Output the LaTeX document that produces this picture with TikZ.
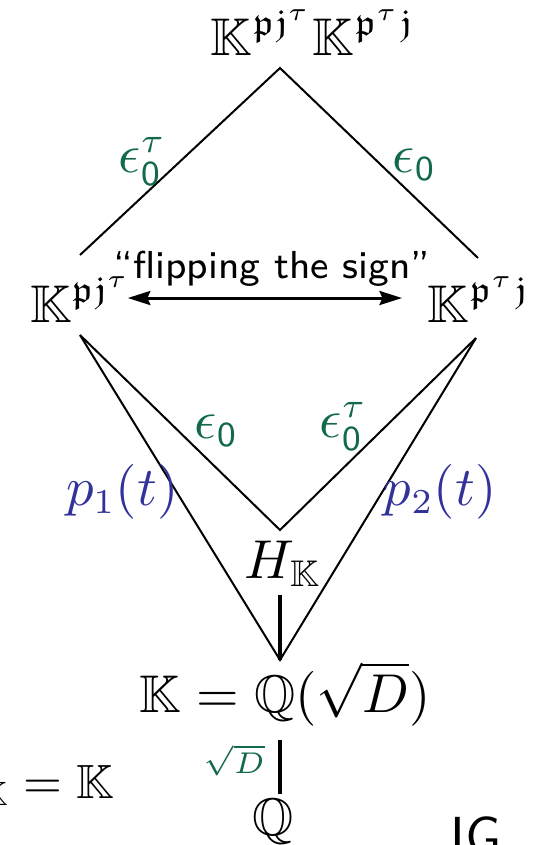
\documentclass[tikz,border=0pt]{standalone}
\usepackage{amssymb}
\usetikzlibrary{arrows.meta}
\definecolor{epsgreen}{RGB}{18,105,75}
\definecolor{polyblue}{RGB}{50,50,155}
\begin{document}
\begin{tikzpicture}[x=0.2pt, y=-0.2pt,
    every node/.style={font=\fontsize{10.6}{13}\selectfont},
    field/.style={inner sep=0pt, anchor=base west},
    epslabel/.style={inner sep=0pt, anchor=base west, text=epsgreen},
    polylabel/.style={inner sep=0pt, anchor=base west, text=polyblue},
    edge/.style={line width=0.4pt},
    tower/.style={line width=0.75pt}]
    \useasboundingbox (0,0) rectangle (537,845);
    \clip (0,0) rectangle (537,845);

    % =========================================================
    % CAMPI
    % =========================================================
    \node[field] (top) at (210,55) {$\mathbb K^{\mathfrak p\mathfrak j^\tau}\mathbb K^{\mathfrak p^\tau\mathfrak j}$};
    \node[field] (left) at (29,322) {$\mathbb K^{\mathfrak p\mathfrak j^\tau}$};
    \node[field] (right) at (427,322) {$\mathbb K^{\mathfrak p^\tau\mathfrak j}$};
    \node[field] (hilb) at (244,578) {$H_{\mathbb K}$};
    \node[field] (quad) at (139,712) {$\mathbb K = \mathbb Q(\sqrt{D})$};
    \node[field] (rat) at (252,835) {$\mathbb Q$};

    % punti di raccordo
    \coordinate (apex) at (280,68);
    \coordinate (lt) at (80,255);
    \coordinate (rt) at (478,258);
    \coordinate (lb) at (80,335);
    \coordinate (rb) at (476,338);
    \coordinate (vb) at (280,530);
    \coordinate (kt) at (280,660);
    \coordinate (ht) at (280,595);
    \coordinate (kb) at (280,740);
    \coordinate (qt) at (280,794);

    % =========================================================
    % ROMBO SUPERIORE
    % =========================================================
    \draw[edge] (lt) -- (apex) -- (rt);
    \node[epslabel] (e1) at (118,172) {$\epsilon_{\mathsf 0}^{\tau}$};
    \node[epslabel] (e2) at (392,172) {$\epsilon_{\mathsf 0}$};

    % Freccia "flipping the sign"
    \draw[line width=0.6pt, {Stealth[length=4.5pt,width=2.8pt,inset=0.6pt]}-{Stealth[length=4.5pt,width=2.8pt,inset=0.6pt]}]
        ([xshift=-1pt]left.east |- 0,298) -- (402,298) coordinate (arrR);
    \node[inner sep=0pt, anchor=base, font=\sffamily\fontsize{7.8}{9}\selectfont] (flip) at (272,278) {``flipping the sign''};

    % =========================================================
    % V INTERNA E TRIANGOLO ESTERNO
    % =========================================================
    \draw[edge] (lb) -- (vb) -- (rb);
    \draw[edge] (lb) -- (kt) -- (rb);
    \node[epslabel] (e3) at (194,438) {$\epsilon_{\mathsf 0}$};
    \node[epslabel] (e4) at (319,437) {$\epsilon_{\mathsf 0}^{\tau}$};
    \node[polylabel] (p1) at (65,505) {$p_1(t)$};
    \node[polylabel] (p2) at (383,505) {$p_2(t)$};

    % =========================================================
    % TORRE IN BASSO
    % =========================================================
    \draw[tower] (ht) -- (kt);
    \draw[tower] (kb) -- (qt);
    \node[epslabel, font=\fontsize{6}{7}\selectfont] (sq) at (203,773) {$\sqrt{D}$};

    % testi tagliati ai bordi
    \node[inner sep=0pt, anchor=base east, font=\fontsize{9.6}{12}\selectfont] (hk) at (115,798) {$H_{\mathbb K} = \mathbb K$};
    \node[inner sep=0pt, anchor=base west, font=\sffamily\fontsize{11}{13}\selectfont] (cut) at (450,855) {IG};
\end{tikzpicture}
\end{document}
